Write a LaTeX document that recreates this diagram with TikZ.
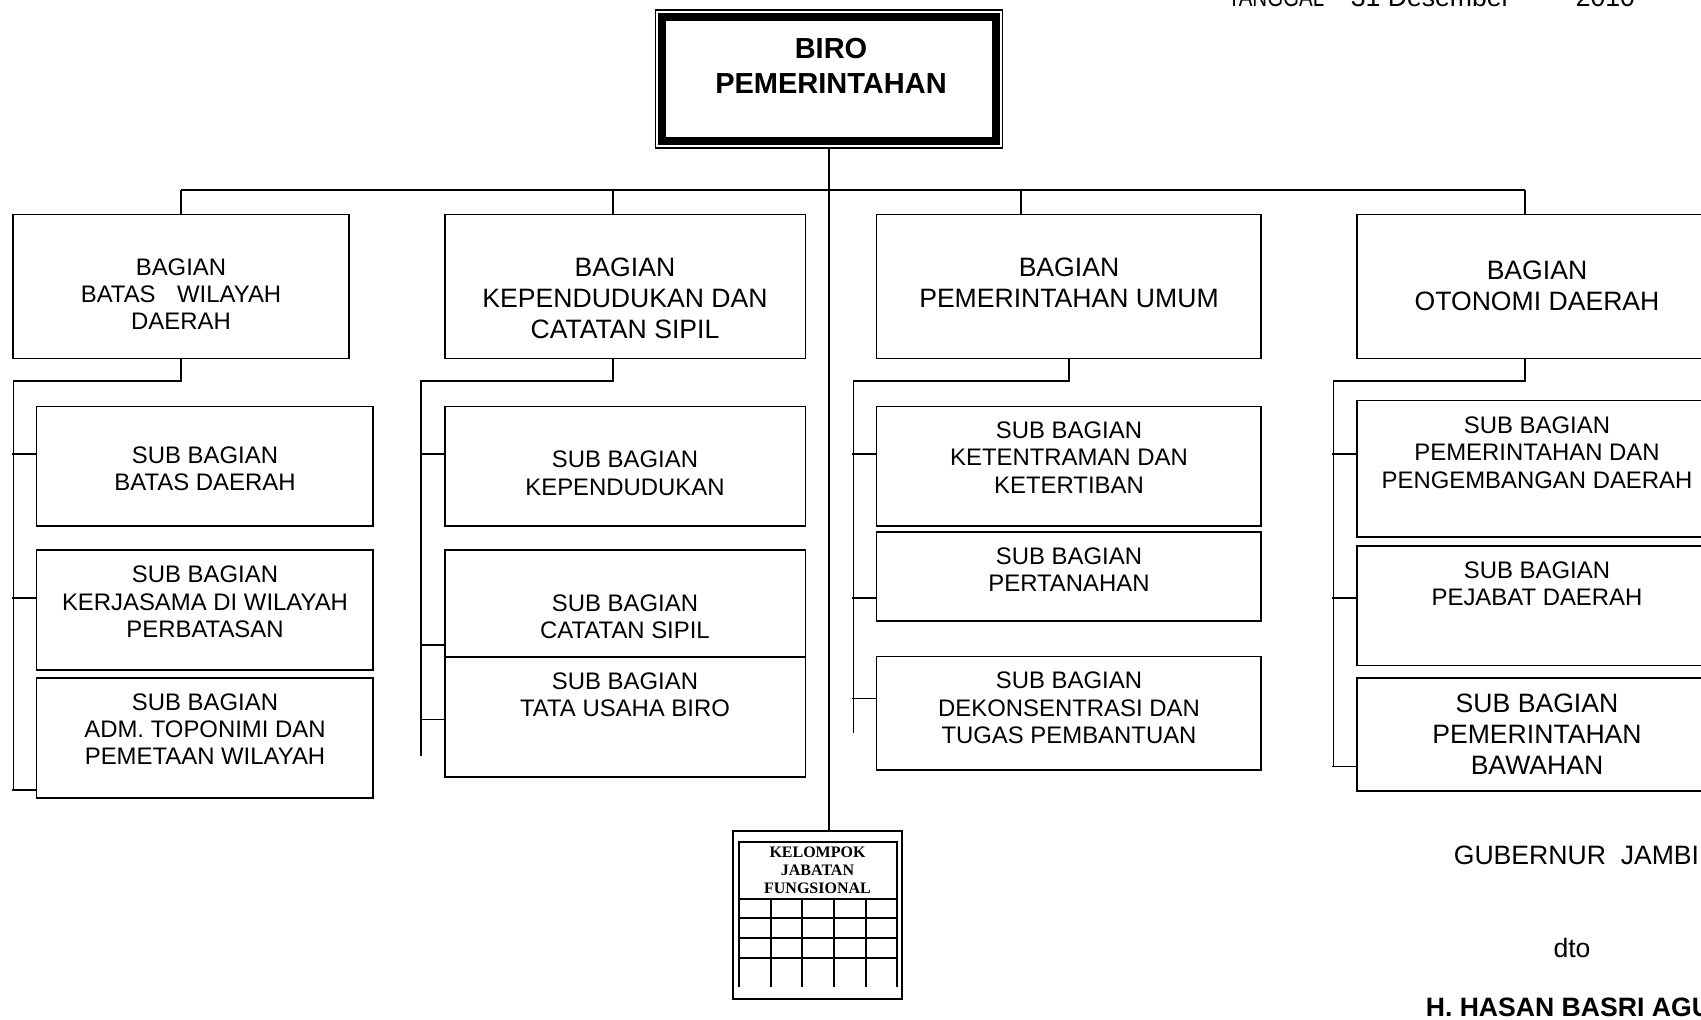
\documentclass[tikz,border=0pt]{standalone}
\usepackage{fontspec}
\setmainfont{Liberation Sans}
\newfontfamily\kjffont{Liberation Serif}
\usepackage{graphicx}
\usepackage{tikz}

\begin{document}
\begin{tikzpicture}[x=1pt, y=-1pt, line width=1.6pt,
    box/.style={draw, rectangle, inner sep=0pt},
    txt/.style={align=center, inner sep=0pt},
    smalltxt/.style={txt, font=\fontsize{23.9}{27.3}\selectfont},
    bigtxt/.style={txt, font=\fontsize{26.6}{30.8}\selectfont}]
\useasboundingbox (0,0) rectangle (1701,1020);
\clip (0,0) rectangle (1701,1020);

% kop
\foreach \n/\x/\t in {tgl1/1227/{\scalebox{0.77}[1]{TANGGAL}}, tgl2/1350/31, tgl3/1387/Desember, tgl4/1575/2010} {
    \node[anchor=base west, inner sep=0pt, font=\fontsize{26.6}{30}\selectfont] (\n) at (\x,6) {\t};
}

% biro
\node[box, line width=1.2pt, minimum width=347pt, minimum height=138pt] (biro) at (829,79) {};
\draw[line width=8.3pt] ([shift={(7.3,7.3)}]biro.north west) rectangle ([shift={(-7.3,-7.3)}]biro.south east);
\node[txt, font=\bfseries\fontsize{29}{35}\selectfont] (biro-t) at (831,66) {BIRO\\PEMERINTAHAN};

% bagian
\foreach \n/\x/\w in {b1/181/336, b2/625.2/360.3, b3/1068.8/384.3, b4/1536.9/360.3} {
    \node[box, minimum width=\w pt, minimum height=143.7pt] (\n) at (\x,286.5) {};
}
\node[smalltxt] (b1-t) at (181,294) {BAGIAN\\BATAS\hspace{0.9em}WILAYAH\\DAERAH};
\node[bigtxt] (b2-t) at (625,298.4) {BAGIAN\\KEPENDUDUKAN DAN\\CATATAN SIPIL};
\node[bigtxt] (b3-t) at (1069,283) {BAGIAN\\PEMERINTAHAN UMUM};
\node[bigtxt] (b4-t) at (1537,286) {BAGIAN\\OTONOMI DAERAH};

% sub bagian
\foreach \n/\x/\y/\w/\h in {s11/204.8/466.3/336.3/119.5, s12/204.8/610/336.3/120, s13/204.8/738/336.3/120,
        s21/625.2/466.3/360.3/119.5, s22/625.2/603.3/360.3/106.7, s23/625.2/716.7/360.3/120,
        s31/1068.8/466.3/384.3/119.5, s32/1068.8/576.5/384.3/89, s33/1068.8/713.2/384.3/113.1,
        s41/1536.9/468.7/360.3/136.6, s42/1536.9/605.8/360.3/119.7, s43/1536.9/734.5/360.3/113} {
    \node[box, minimum width=\w pt, minimum height=\h pt] (\n) at (\x,\y) {};
}
\foreach \n/\x/\y/\t in {s11/205/469/{SUB BAGIAN\\BATAS DAERAH},
        s12/205/602/{SUB BAGIAN\\KERJASAMA DI WILAYAH\\PERBATASAN},
        s13/205/729/{SUB BAGIAN\\ADM. TOPONIMI DAN\\PEMETAAN WILAYAH},
        s21/625/473.3/{SUB BAGIAN\\KEPENDUDUKAN},
        s22/625/616.8/{SUB BAGIAN\\CATATAN SIPIL},
        s23/625/695/{SUB BAGIAN\\TATA USAHA BIRO},
        s31/1069/457.6/{SUB BAGIAN\\KETENTRAMAN DAN\\KETERTIBAN},
        s32/1069/569.4/{SUB BAGIAN\\PERTANAHAN},
        s33/1069/708/{SUB BAGIAN\\DEKONSENTRASI DAN\\TUGAS PEMBANTUAN},
        s41/1537/452.7/{SUB BAGIAN\\PEMERINTAHAN DAN\\PENGEMBANGAN DAERAH},
        s42/1537/584/{SUB BAGIAN\\PEJABAT DAERAH}} {
    \node[smalltxt] (\n-t) at (\x,\y) {\t};
}
\node[bigtxt] (s43-t) at (1537,734) {SUB BAGIAN\\PEMERINTAHAN\\BAWAHAN};

% jabatan fungsional
\node[box, line width=2pt, minimum width=169pt, minimum height=168pt] (kjf) at (817.5,915) {};
\draw[line width=2pt] (739,987) |- (897.3,841.7) -- (897.3,987);
\foreach \y in {899,918,938,958} \draw[line width=2pt] (739,\y) -- (897.3,\y);
\foreach \x in {771,802,834,866} \draw[line width=2pt] (\x,899) -- (\x,987);
\node[txt, font=\kjffont\bfseries\fontsize{16}{18}\selectfont] (kjf-t) at (817.5,870) {KELOMPOK\\JABATAN\\FUNGSIONAL};

% garis
\foreach \i/\x in {1/181, 2/612.7, 3/1021, 4/1525} {
    \coordinate (d\i) at (\x,190);
}
\draw (d1) -- (d4);
\foreach \i in {1,...,4} \draw (d\i) -- (d\i |- b\i.north);
\draw (biro.south) -- (biro.south |- kjf.north);

\foreach \i/\x/\kx/\ey in {1/181/13.3/790, 2/612.7/421/756, 3/1069/853.3/733, 4/1525/1333.3/766.5} {
    \coordinate (u\i) at (\x,381);
    \coordinate (k\i) at (\kx,381);
    \coordinate (e\i) at (\kx,\ey);
    \draw (u\i |- b\i.south) -- (u\i) -- (k\i) -- (e\i);
}
\foreach \s/\dy in {s11/12.3, s12/12, s13/-52, s21/12.3, s22/-41.7, s23/-2.9,
        s31/12.3, s32/-21.5, s33/14.8, s41/14.7, s42/7.8, s43/-32} {
    \draw ([yshift=\dy pt]\s.west) -- ++(-23.5,0);
}

% tanda tangan
\node[anchor=west, inner sep=0pt, font=\fontsize{26.6}{30}\selectfont] (gub) at (1453,855) {GUBERNUR\ \ JAMBI};
\node[inner sep=0pt, font=\fontsize{26.6}{30}\selectfont] (dto) at (1572,948) {dto};
\node[anchor=west, inner sep=0pt, font=\bfseries\fontsize{26.6}{30}\selectfont] (ttd) at (1425,1007.5) {H. HASAN BASRI AGUS};
\end{tikzpicture}
\end{document}
